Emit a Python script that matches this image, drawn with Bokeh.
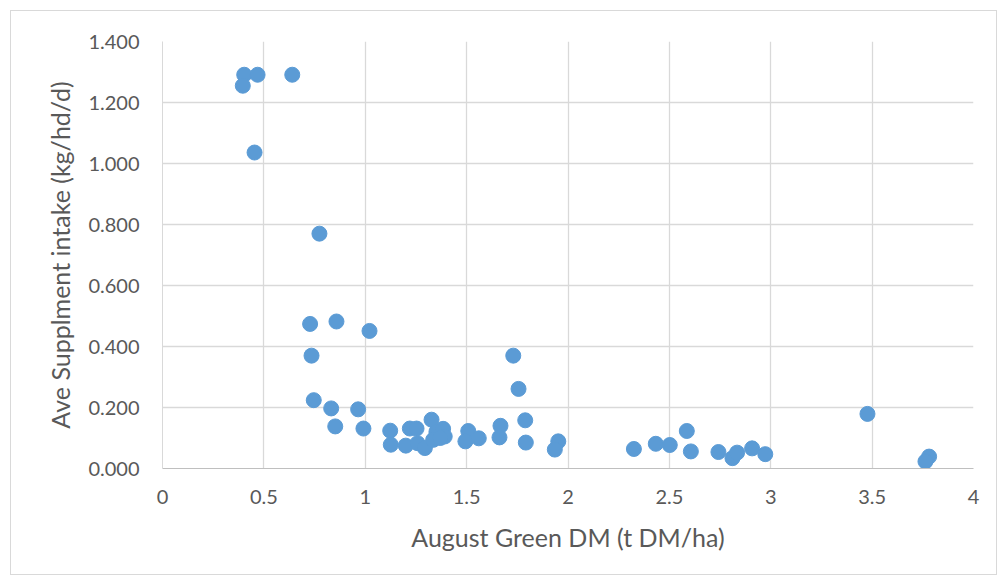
from bokeh.plotting import figure
from bokeh.embed import file_html
from bokeh.resources import INLINE
from bokeh.models import Range1d, FixedTicker, CustomJSTickFormatter

green_dm = [0.403, 0.469, 0.396, 0.640, 0.454, 0.774, 0.728, 0.858, 1.021, 0.735,
            0.746, 0.832, 0.965, 0.852, 0.991, 1.123, 1.126, 1.220, 1.253, 1.200,
            1.258, 1.294, 1.327, 1.351, 1.384, 1.392, 1.335, 1.370, 1.508, 1.494,
            1.560, 1.667, 1.662, 1.730, 1.756, 1.789, 1.792, 1.952, 1.935, 2.325,
            2.433, 2.502, 2.586, 2.606, 2.742, 2.811, 2.834, 2.908, 2.973, 3.477,
            3.781, 3.763]
supp_intake = [1.291, 1.291, 1.255, 1.291, 1.036, 0.770, 0.474, 0.482, 0.451, 0.370,
               0.224, 0.197, 0.194, 0.138, 0.131, 0.124, 0.078, 0.131, 0.131, 0.075,
               0.083, 0.067, 0.160, 0.120, 0.130, 0.105, 0.094, 0.100, 0.123, 0.089,
               0.099, 0.140, 0.102, 0.370, 0.261, 0.158, 0.085, 0.089, 0.062, 0.064,
               0.081, 0.077, 0.123, 0.056, 0.054, 0.034, 0.052, 0.066, 0.047, 0.179,
               0.039, 0.023]
x_ticks = [0, 0.5, 1, 1.5, 2, 2.5, 3, 3.5, 4]
y_ticks = [0.0, 0.2, 0.4, 0.6, 0.8, 1.0, 1.2, 1.4]
x_title = "August Green DM (t DM/ha)"
y_title = "Ave Supplment intake (kg/hd/d)"

FONT = "Lato"
TXT = "#595959"

p = figure(width=987, height=565, output_backend="svg", toolbar_location=None,
           x_range=Range1d(0, 4), y_range=Range1d(0, 1.4),
           min_border_left=151, min_border_right=25, min_border_top=30,
           min_border_bottom=108)
p.margin = (10, 0, 0, 10)
p.styles = {"border": "1px solid #D9D9D9"}
p.outline_line_color = None

p.scatter(green_dm, supp_intake, size=15, color="#5B9BD5", line_color="#5B9BD5")

p.xaxis.ticker = FixedTicker(ticks=x_ticks)
p.yaxis.ticker = FixedTicker(ticks=y_ticks)
p.yaxis.formatter = CustomJSTickFormatter(code="return tick.toFixed(3);")
p.xaxis.formatter = CustomJSTickFormatter(code="return String(Math.round(tick*10)/10);")

for ax in (p.xaxis[0], p.yaxis[0]):
    ax.major_tick_line_color = None
    ax.minor_tick_line_color = None
    ax.major_tick_out = 0
    ax.major_tick_in = 0
    ax.major_label_text_font = FONT
    ax.major_label_text_font_size = "20px"
    ax.major_label_text_color = TXT
    ax.axis_label_text_font = FONT
    ax.axis_label_text_font_size = "25px"
    ax.axis_label_text_font_style = "normal"
    ax.axis_label_text_color = TXT
p.xaxis.axis_line_color = "#BFBFBF"
p.yaxis.axis_line_color = "#D9D9D9"
p.xaxis.axis_label = x_title
p.yaxis.axis_label = y_title
p.xaxis.major_label_standoff = 21
p.yaxis.major_label_standoff = 23
p.xaxis.axis_label_standoff = 15
p.yaxis.axis_label_standoff = 10

p.xgrid.ticker = FixedTicker(ticks=x_ticks)
p.ygrid.ticker = FixedTicker(ticks=y_ticks)
p.grid.grid_line_color = "#D9D9D9"
p.grid.grid_line_width = 1.3

open("out.html", "w").write(file_html(p, INLINE))
